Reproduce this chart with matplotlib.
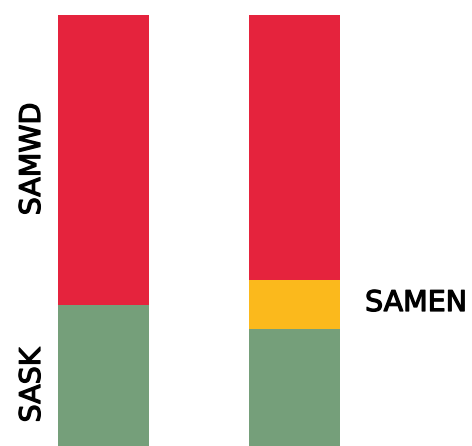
import matplotlib
matplotlib.use("Agg")
import matplotlib.pyplot as plt
import matplotlib.patheffects as pe

bars = ["A", "B"]
sask = [32.7, 27.1]
samen = [0.0, 11.4]
samwd = [67.3, 61.5]

c_green = "#759F7A"
c_yellow = "#FBB91C"
c_red = "#E5233D"

W, H = 472, 446
fig = plt.figure(figsize=(W / 100, H / 100), dpi=100)
ax = fig.add_axes([0, 0, 1, 431.5 / H])
x = [0, 1]
bw = 91 / 191
ax.bar(x, sask, width=bw, color=c_green, linewidth=0)
ax.bar(x, samen, width=bw, bottom=sask, color=c_yellow, linewidth=0)
bot2 = [a + b for a, b in zip(sask, samen)]
ax.bar(x, samwd, width=bw, bottom=bot2, color=c_red, linewidth=0)
a0 = -103.5 / 191
ax.set_xlim(a0, a0 + W / 191)
ax.set_ylim(0, 100)
ax.axis("off")

fs = 20.5
eff = [pe.withStroke(linewidth=0.9, foreground="black")]
fig.text(32 / W, 1 - 159 / H, "SAMWD", rotation=90, ha="center", va="center", fontsize=fs, color="black", path_effects=eff)
fig.text(32 / W, 1 - 385 / H, "SASK", rotation=90, ha="center", va="center", fontsize=fs, color="black", path_effects=eff)
fig.text(416 / W, 1 - 303 / H, "SAMEN", ha="center", va="center", fontsize=fs, color="black", path_effects=eff)

fig.savefig("out.png", dpi=100)
